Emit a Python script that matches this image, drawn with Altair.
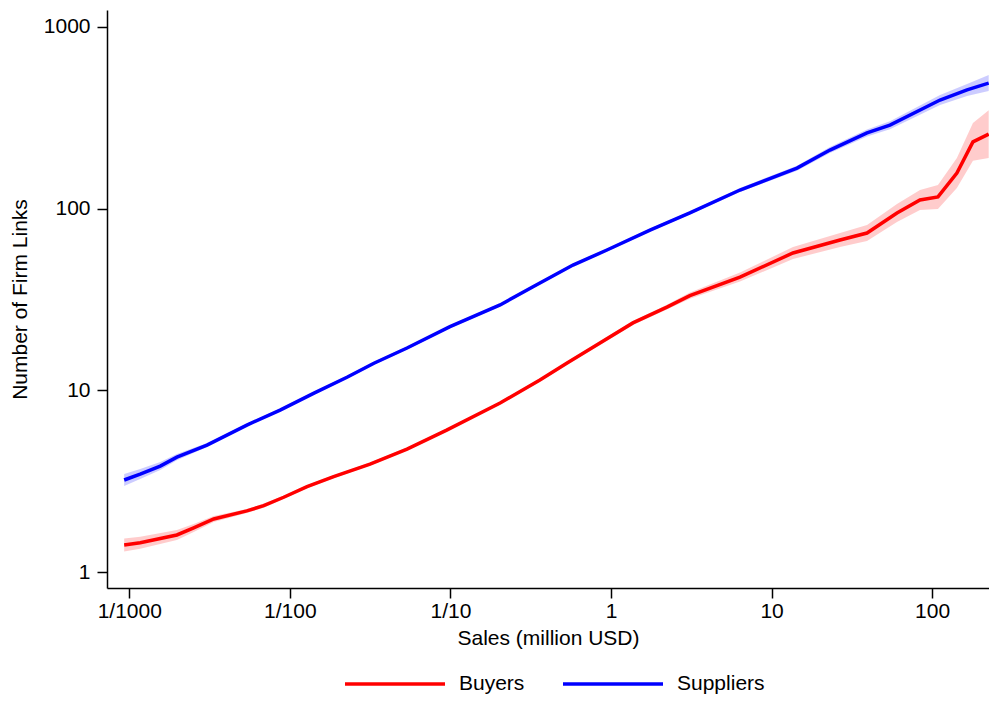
import altair as alt
import pandas as pd

# ---- data ----
buyers_sales = [0.00093, 0.00117, 0.00198, 0.00252, 0.00336, 0.0054, 0.00688, 0.00916,
                0.0128, 0.01875, 0.0316, 0.0537, 0.0948, 0.204, 0.361, 0.530, 0.854,
                1.37, 2.23, 3.10, 6.36, 13.6, 26.7, 39.3, 60.4, 84.0, 108.7, 142.6, 179.5, 225]
buyers_links = [1.41, 1.45, 1.60, 1.75, 1.96, 2.17, 2.32, 2.58, 2.95, 3.35, 3.93, 4.75,
                6.04, 8.51, 11.4, 14.1, 18.2, 23.5, 28.7, 33.2, 42.0, 57.0, 67.2, 73.4,
                94.6, 111.6, 116, 157, 233, 257]
# multiplicative half-width of the confidence band
buyers_band = [1.086, 1.079, 1.065, 1.052, 1.039, 1.026, 1.026, 1.019, 1.019, 1.019, 1.019,
               1.019, 1.019, 1.019, 1.019, 1.019, 1.026, 1.026, 1.032, 1.039, 1.059, 1.079,
               1.093, 1.106, 1.121, 1.135, 1.164, 1.209, 1.272, 1.355]

suppliers_sales = [0.00093, 0.00117, 0.00156, 0.00198, 0.00305, 0.0054, 0.0087, 0.01415,
                   0.0227, 0.0334, 0.0537, 0.0994, 0.204, 0.327, 0.58, 0.944, 1.75, 3.10,
                   6.36, 14.4, 23.1, 39.3, 54.6, 112, 165, 225]
suppliers_links = [3.21, 3.46, 3.83, 4.29, 5.00, 6.44, 7.79, 9.66, 11.8, 14.1, 17.1, 22.4,
                   29.5, 37.2, 48.9, 59.2, 76.2, 94.7, 126.6, 167, 210, 261, 288, 396, 450, 491]
suppliers_band = [1.079, 1.065, 1.052, 1.039, 1.026, 1.019, 1.019, 1.019, 1.019, 1.019,
                  1.019, 1.019, 1.019, 1.019, 1.019, 1.019, 1.019, 1.019, 1.026, 1.032,
                  1.039, 1.045, 1.052, 1.065, 1.079, 1.107]

series_names = ["Buyers", "Suppliers"]
series_colors = ["#FF0000", "#0000FF"]
x_ticks = [0.001, 0.01, 0.1, 1, 10, 100]
y_ticks = [1, 10, 100, 1000]

rows = []
for name, xs, ys, bs in [("Buyers", buyers_sales, buyers_links, buyers_band),
                         ("Suppliers", suppliers_sales, suppliers_links, suppliers_band)]:
    for x, y, b in zip(xs, ys, bs):
        rows.append({"series": name, "sales": x, "links": y, "lo": y / b, "hi": y * b})
df = pd.DataFrame(rows)

FONT = "Liberation Sans"

x_enc = alt.X("sales:Q",
              scale=alt.Scale(type="log", domain=[0.000727, 226], nice=False),
              axis=alt.Axis(values=x_ticks, title="Sales (million USD)",
                            labelExpr="datum.value < 1 ? '1/' + format(1/datum.value, 'd') : format(datum.value, 'd')",
                            labelPadding=2, titlePadding=6, tickSize=10))
y_scale = alt.Scale(type="log", domain=[0.817, 1239], nice=False)

bands = []
for name, col in zip(series_names, series_colors):
    bands.append(
        alt.Chart(df).transform_filter(alt.datum.series == name)
        .mark_area(opacity=0.2, color=col).encode(
            x=x_enc,
            y=alt.Y("lo:Q", scale=y_scale),
            y2="hi:Q",
        )
    )

line = alt.Chart(df).mark_line(strokeWidth=3.5).encode(
    x=x_enc,
    y=alt.Y("links:Q", scale=y_scale,
            axis=alt.Axis(values=y_ticks, format="d", title="Number of Firm Links",
                          labelPadding=7, titlePadding=13, tickSize=10)),
    color=alt.Color("series:N", scale=alt.Scale(domain=series_names, range=series_colors),
                    legend=alt.Legend(title=None, orient="none", direction="horizontal",
                                      legendX=236, legendY=622,
                                      symbolType="stroke", symbolSize=10000,
                                      symbolStrokeWidth=3.5, labelOffset=12,
                                      columnPadding=31, labelFontSize=21,
                                      labelFont=FONT, labelColor="black")),
)

chart = alt.layer(*bands, line).properties(
    width=882, height=578,
    autosize=alt.AutoSizeParams(type="none"),
    padding={"left": 99, "top": 2, "right": 0, "bottom": 106},
).configure_view(stroke=None).configure_axis(
    grid=False, domainColor="black", tickColor="black", labelColor="black",
    titleColor="black", labelFont=FONT, titleFont=FONT, labelFontSize=21,
    titleFontSize=21, titleFontWeight="normal", domainWidth=1.5, tickWidth=1.5,
)

chart.save("out.html", embed_options={"renderer": "svg", "actions": False})
